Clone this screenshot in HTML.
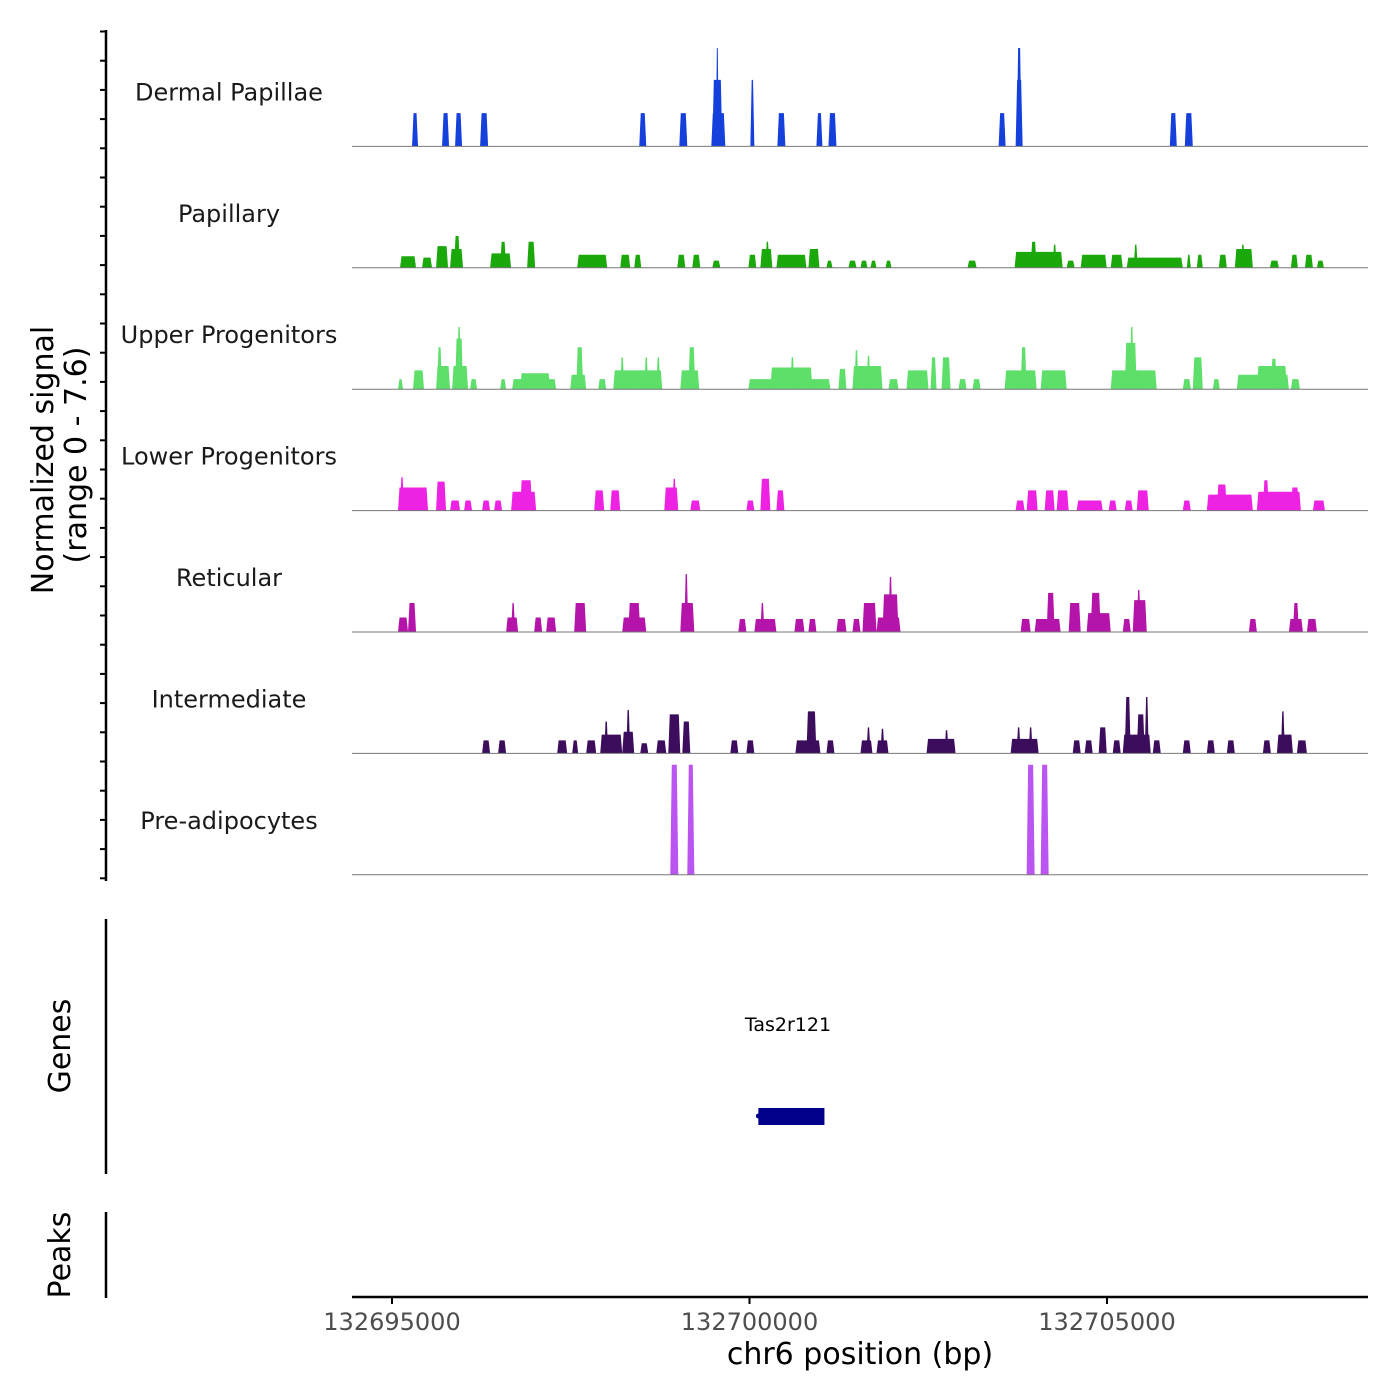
<!DOCTYPE html>
<html><head><meta charset="utf-8">
<style>
html,body{margin:0;padding:0;background:#fff;}
svg{display:block;font-family:"DejaVu Sans","Liberation Sans",sans-serif;}
</style></head>
<body>
<svg id="chart" width="1400" height="1400" viewBox="0 0 1400 1400" xmlns="http://www.w3.org/2000/svg">
<g id="tracks"></g>
<g id="axes"></g>
</svg>
<script>
const regionStart = 132695000;
const trackNames = ["Dermal Papillae","Papillary","Upper Progenitors","Lower Progenitors","Reticular","Intermediate","Pre-adipocytes"];
const trackColors = ["#1540dc","#1aa80a","#5ddf6a","#ee22e2","#b414aa","#3b0d5c","#bb55f2"];
const xTicks = [132695000,132700000,132705000];
const xTickLabels = ["132695000","132700000","132705000"];
const geneName = "Tas2r121";
const geneStart = 5124, geneEnd = 6048;
// segments: [startOffsetBp, endOffsetBp, signal]
const dermalPapillae = [[280,364,2.3],[700,798,2.3],[882,980,2.3],[1232,1344,2.3],[3458,3556,2.3],[4018,4130,2.3],[4466,4662,2.3],[4480,4620,4.6],[4530,4570,6.8],[5012,5068,4.6],[5390,5502,2.3],[5936,6020,2.3],[6104,6216,2.3],[8484,8582,2.3],[8722,8820,4.6],[8736,8806,6.8],[10878,10976,2.3],[11088,11200,2.3]];
const papillary = [[112,336,0.8],[420,560,0.7],[616,784,1.5],[812,994,1.3],[868,952,2.2],[1372,1666,1],[1512,1596,1.8],[1890,2002,1.8],[2590,3010,0.9],[3192,3332,0.9],[3388,3486,0.9],[3990,4102,0.9],[4200,4312,0.9],[4480,4592,0.5],[4984,5096,0.9],[5152,5320,1.3],[5222,5278,1.8],[5376,5796,0.9],[5824,5978,1.3],[6076,6160,0.5],[6384,6496,0.5],[6552,6650,0.5],[6692,6776,0.5],[6902,6986,0.5],[8050,8176,0.5],[8708,9380,1.1],[8932,9016,1.8],[9240,9296,1.6],[9436,9548,0.5],[9632,9996,0.9],[10052,10220,0.9],[10276,11060,0.7],[10374,10430,1.6],[11116,11172,0.9],[11256,11340,0.9],[11564,11676,0.9],[11788,12040,1.3],[11872,11928,1.6],[12278,12404,0.5],[12572,12670,0.9],[12768,12880,0.9],[12936,13034,0.5]];
const upperProgenitors = [[84,154,0.7],[294,448,1.3],[616,812,1.6],[630,700,2.9],[840,1064,1.6],[882,994,3.5],[910,966,4.3],[1092,1190,0.7],[1512,1596,0.7],[1680,2296,0.7],[1792,2212,1.1],[2492,2716,1],[2576,2674,2.9],[2884,2996,0.7],[3094,3780,1.3],[3192,3248,2.2],[3528,3584,2.2],[3696,3752,2.2],[4032,4298,1.3],[4144,4242,2.9],[4984,6132,0.7],[5292,5880,1.5],[5572,5628,2.2],[6244,6356,1.4],[6440,6860,1.6],[6468,6524,2.7],[6636,6692,2.3],[6944,7084,0.7],[7196,7504,1.3],[7532,7616,2.2],[7686,7812,2.2],[7924,8036,0.7],[8120,8232,0.7],[8568,9016,1.3],[8792,8876,2.9],[9072,9436,1.3],[10052,10696,1.3],[10248,10416,3.2],[10318,10374,4.3],[11060,11172,0.7],[11200,11340,2.2],[11480,11578,0.7],[11816,12544,1],[12096,12516,1.6],[12292,12376,2.1],[12572,12698,0.7]];
const lowerProgenitors = [[84,504,1.6],[112,168,2.3],[616,756,2],[812,952,0.7],[1008,1120,0.7],[1260,1372,0.7],[1428,1540,0.7],[1666,2016,1.3],[1792,1960,2.1],[2828,2968,1.4],[3052,3192,1.4],[3808,4004,1.6],[3920,3976,2.2],[4172,4312,0.7],[4956,5068,0.7],[5152,5292,2.2],[5376,5488,1.4],[8722,8848,0.7],[8876,9030,1.4],[9128,9268,1.4],[9296,9464,1.4],[9576,9940,0.7],[10024,10136,0.7],[10248,10360,0.7],[10416,10584,1.4],[11060,11172,0.7],[11396,12040,1.1],[11536,11676,1.8],[12096,12712,1.3],[12180,12264,2.1],[12572,12684,1.6],[12880,13048,0.7]];
const reticular = [[84,224,1],[224,336,2],[1596,1764,1],[1666,1722,2],[1988,2100,1],[2156,2296,1],[2548,2716,2],[3220,3556,1],[3304,3472,2],[4032,4228,2],[4088,4144,4],[4844,4956,0.9],[5068,5376,0.9],[5152,5208,2],[5628,5768,0.9],[5824,5936,0.9],[6216,6356,0.9],[6440,6552,0.9],[6580,6776,2],[6776,7112,1],[6860,7084,2.6],[6944,7000,3.8],[8792,8932,0.9],[8988,9352,0.9],[9156,9268,2.7],[9464,9632,2],[9716,10052,1.3],[9772,9912,2.7],[10220,10332,0.9],[10360,10556,2.2],[10416,10472,2.9],[11984,12096,0.9],[12544,12740,0.9],[12600,12684,2],[12796,12936,0.9]];
const intermediate = [[1260,1372,0.9],[1484,1596,0.9],[2310,2450,0.9],[2520,2604,0.9],[2716,2856,0.9],[2912,3220,1.3],[2968,3024,2.2],[3220,3388,1.5],[3276,3332,3],[3472,3584,0.7],[3696,3836,0.9],[3864,4032,2.7],[4060,4172,2.2],[4732,4844,0.9],[4956,5068,0.9],[5642,5992,0.9],[5796,5936,2.9],[6076,6188,0.9],[6552,6720,0.9],[6636,6692,1.8],[6776,6944,0.9],[6832,6888,1.7],[7476,7882,1],[7728,7784,1.6],[8652,9044,1],[8736,8792,1.8],[8904,8960,1.8],[9520,9632,0.9],[9688,9800,0.9],[9884,9996,1.8],[10080,10192,0.9],[10220,10612,1.3],[10248,10332,3.9],[10416,10528,2.7],[10528,10584,3.9],[10640,10752,0.9],[11060,11172,0.9],[11396,11508,0.9],[11676,11788,0.9],[12180,12292,0.9],[12376,12600,1.3],[12432,12488,2.9],[12656,12796,0.9]];
const preAdipocytes = [[3892,4004,7.6],[4130,4228,7.6],[8876,8988,7.6],[9072,9184,7.6]];
const trackData = [dermalPapillae,papillary,upperProgenitors,lowerProgenitors,reticular,intermediate,preAdipocytes];

const NS="http://www.w3.org/2000/svg";
const X0=352,X1=1368;
function xScale(bp){return 392+(bp-regionStart)*(357.5/5000);}
const trackTop=25, trackH=121.4, maxSig=7.6, sigPx=110;
function baseY(i){return trackTop+(i+1)*trackH;}
function yScale(i,v){return baseY(i)-v/maxSig*sigPx;}
function mk(tag,attrs,parent){const e=document.createElementNS(NS,tag);for(const k in attrs)e.setAttribute(k,attrs[k]);parent.appendChild(e);return e;}
const gT=document.getElementById('tracks'), gA=document.getElementById('axes');

trackData.forEach((segs,i)=>{
  const g=mk('g',{},gT);
  
  
  segs.forEach(s=>{
    const x1=xScale(regionStart+s[0]), x2=xScale(regionStart+s[1]);
    const b=baseY(i), t=yScale(i,s[2]);
    const sl=Math.min(1.5,(x2-x1)/3);
    const p=mk('polygon',{points:`${x1},${b} ${x1+sl},${t} ${x2-sl},${t} ${x2},${b}`,fill:trackColors[i]},g);
    
    
  });
  const bl=mk('line',{x1:X0,x2:X1,y1:baseY(i),y2:baseY(i),stroke:'#777','stroke-width':1},g);
  
  
  const lb=mk('text',{x:229,y:baseY(i)-46,'text-anchor':'middle','font-size':24,fill:'#1a1a1a'},g);
  lb.textContent=trackNames[i];
  
  
});

function vline(y1,y2,name){const l=mk('line',{x1:106,x2:106,y1:y1,y2:y2,stroke:'#000','stroke-width':2.5},gA);}
vline(30,881,'signal-y-axis');
for(let y=31.5;y<=880;y+=29.2){mk('line',{x1:100,x2:106,y1:y,y2:y,stroke:'#000','stroke-width':2},gA);}
vline(919,1174,'genes-y-axis');
vline(1212,1298,'peaks-y-axis');
function vtext(x,y,txt,size,name){const t=mk('text',{x:x,y:y,'text-anchor':'middle','font-size':size,fill:'#000',transform:`rotate(-90 ${x} ${y})`},gA);t.textContent=txt;}
vtext(53,460,'Normalized signal',30,'y-axis-title');
vtext(86,455,'(range 0 - 7.6)',30,'y-axis-subtitle');
vtext(70,1046,'Genes',30,'genes-label');
vtext(70,1255,'Peaks',30,'peaks-label');

const gl=mk('text',{x:788,y:1031,'text-anchor':'middle','font-size':19,fill:'#000'},gA);gl.textContent=geneName;


const gr=mk('rect',{x:xScale(regionStart+geneStart),y:1108,width:xScale(regionStart+geneEnd)-xScale(regionStart+geneStart),height:17,fill:'#00008b'},gA);


mk('circle',{cx:xScale(regionStart+geneStart),cy:1116,r:2.5,fill:'#00008b'},gA);

const xa=mk('line',{x1:X0,x2:X1,y1:1297,y2:1297,stroke:'#000','stroke-width':2.5},gA);


xTicks.forEach((v,k)=>{
  const x=xScale(v);
  mk('line',{x1:x,x2:x,y1:1297,y2:1304,stroke:'#000','stroke-width':2},gA);
  const t=mk('text',{x:x,y:1330,'text-anchor':'middle','font-size':24,fill:'#4d4d4d'},gA);
  t.textContent=xTickLabels[k];
  
  
});
const xt=mk('text',{x:860,y:1364,'text-anchor':'middle','font-size':30,fill:'#000'},gA);
xt.textContent='chr6 position (bp)';


</script>
</body></html>
